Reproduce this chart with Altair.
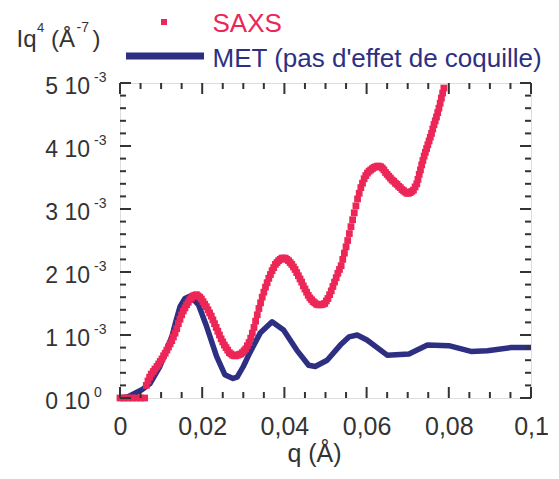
import altair as alt
import pandas as pd

# ---------------- data (Iq^4 values in units of 1e-3 A^-7) ----------------
saxs_q = [0.000, 0.001, 0.002, 0.003, 0.004, 0.005, 0.006,
          0.0064, 0.0068, 0.0072, 0.0076, 0.0081, 0.0085, 0.0090, 0.0094, 0.0098,
          0.0102, 0.0106, 0.0110, 0.0114, 0.0118, 0.0122, 0.0126, 0.0130, 0.0134,
          0.0138, 0.0142, 0.0146, 0.0150, 0.0154, 0.0158, 0.0162, 0.0166, 0.0170,
          0.0174, 0.0178, 0.0182, 0.0186, 0.0190, 0.0194, 0.0198, 0.0202, 0.0206,
          0.0210, 0.0214, 0.0218, 0.0222, 0.0226, 0.0230, 0.0234, 0.0238, 0.0242,
          0.0246, 0.0250, 0.0254, 0.0258, 0.0262, 0.0266, 0.0270, 0.0274, 0.0278,
          0.0282, 0.0286, 0.0290, 0.0294, 0.0298, 0.0302, 0.0306, 0.0310, 0.0314,
          0.0318, 0.0322, 0.0326, 0.0330, 0.0334, 0.0338, 0.0342, 0.0346, 0.0350,
          0.0354, 0.0358, 0.0362, 0.0366, 0.0370, 0.0374, 0.0378, 0.0382, 0.0386,
          0.0390, 0.0394, 0.0398, 0.0402, 0.0406, 0.0410, 0.0414, 0.0418, 0.0422,
          0.0426, 0.0430, 0.0434, 0.0438, 0.0442, 0.0446, 0.0450, 0.0454, 0.0458,
          0.0462, 0.0466, 0.0470, 0.0474, 0.0478, 0.0482, 0.0486, 0.0490, 0.0494,
          0.0498, 0.0502, 0.0506, 0.0510, 0.0514, 0.0518, 0.0522, 0.0526, 0.0530,
          0.0534, 0.0538, 0.0542, 0.0546, 0.0550, 0.0554, 0.0558, 0.0562, 0.0566,
          0.0570, 0.0574, 0.0578, 0.0582, 0.0586, 0.0590, 0.0594, 0.0598, 0.0602,
          0.0606, 0.0610, 0.0614, 0.0618, 0.0622, 0.0626, 0.0630, 0.0634, 0.0638,
          0.0642, 0.0646, 0.0650, 0.0654, 0.0658, 0.0662, 0.0666, 0.0670, 0.0674,
          0.0678, 0.0682, 0.0686, 0.0690, 0.0694, 0.0698, 0.0702, 0.0706, 0.0710,
          0.0714, 0.0718, 0.0722, 0.0725, 0.0728, 0.0731, 0.0734, 0.0737, 0.0740,
          0.0743, 0.0746, 0.0749, 0.0752, 0.0755, 0.0758, 0.0761, 0.0764, 0.0767,
          0.0770, 0.0773, 0.0776, 0.0779, 0.0782, 0.0785, 0.0788]
saxs_iq4 = [0, 0, 0, 0, 0, 0, 0,
            0.20, 0.27, 0.33, 0.38, 0.42, 0.46, 0.50, 0.54, 0.58,
            0.62, 0.67, 0.71, 0.76, 0.81, 0.86, 0.91, 0.97, 1.03,
            1.10, 1.18, 1.25, 1.32, 1.38, 1.43, 1.48, 1.52, 1.56,
            1.59, 1.62, 1.63, 1.64, 1.62, 1.60, 1.57, 1.53, 1.49,
            1.45, 1.40, 1.35, 1.30, 1.24, 1.18, 1.12, 1.06, 1.00,
            0.94, 0.89, 0.84, 0.80, 0.76, 0.72, 0.70, 0.68, 0.67,
            0.67, 0.68, 0.69, 0.70, 0.72, 0.75, 0.78, 0.83, 0.88,
            0.95, 1.03, 1.12, 1.22, 1.32, 1.42, 1.51, 1.60, 1.68,
            1.76, 1.83, 1.90, 1.96, 2.02, 2.07, 2.12, 2.15, 2.18,
            2.20, 2.22, 2.22, 2.22, 2.20, 2.18, 2.15, 2.12, 2.08,
            2.04, 1.99, 1.94, 1.89, 1.84, 1.78, 1.73, 1.68, 1.63,
            1.59, 1.56, 1.53, 1.51, 1.49, 1.48, 1.48, 1.48, 1.49,
            1.50, 1.54, 1.58, 1.64, 1.70, 1.77, 1.84, 1.91, 1.98,
            2.04, 2.10, 2.20, 2.30, 2.40, 2.50, 2.61, 2.72, 2.83,
            2.94, 3.05, 3.16, 3.25, 3.34, 3.41, 3.48, 3.53, 3.57,
            3.60, 3.62, 3.64, 3.66, 3.67, 3.68, 3.68, 3.67, 3.65,
            3.62, 3.58, 3.55, 3.52, 3.49, 3.46, 3.44, 3.41, 3.39,
            3.36, 3.34, 3.31, 3.29, 3.27, 3.25, 3.25, 3.26, 3.28,
            3.30, 3.35, 3.40, 3.47, 3.55, 3.62, 3.70, 3.77, 3.84,
            3.90, 3.96, 4.02, 4.08, 4.14, 4.20, 4.27, 4.34, 4.40,
            4.46, 4.53, 4.60, 4.68, 4.76, 4.84, 4.92]

met_q = [0.000, 0.002, 0.0053, 0.0073, 0.0097, 0.0126, 0.0136, 0.0146, 0.0158,
         0.0171, 0.0191, 0.0211, 0.0235, 0.0255, 0.0275, 0.0285, 0.0300, 0.0316,
         0.0341, 0.0370, 0.0398, 0.0430, 0.0459, 0.0475, 0.0504, 0.0536, 0.0557,
         0.0577, 0.0601, 0.0650, 0.0703, 0.0748, 0.0800, 0.0854, 0.0894, 0.0951,
         0.1000]
met_iq4 = [0.00, 0.02, 0.13, 0.23, 0.50, 0.97, 1.22, 1.45, 1.58,
           1.62, 1.48, 1.13, 0.66, 0.37, 0.31, 0.33, 0.50, 0.72,
           1.03, 1.21, 1.08, 0.76, 0.52, 0.50, 0.60, 0.84, 0.97,
           1.00, 0.92, 0.68, 0.70, 0.84, 0.83, 0.74, 0.75, 0.80,
           0.80]

x_major = [0, 0.02, 0.04, 0.06, 0.08, 0.1]
x_minor = [0.005, 0.01, 0.015, 0.025, 0.03, 0.035, 0.045, 0.05, 0.055,
           0.065, 0.07, 0.075, 0.085, 0.09, 0.095]
y_major = [0, 1, 2, 3, 4, 5]
y_minor = [0.2, 0.4, 0.6, 0.8, 1.2, 1.4, 1.6, 1.8, 2.2, 2.4, 2.6, 2.8,
           3.2, 3.4, 3.6, 3.8, 4.2, 4.4, 4.6, 4.8]
y_label_main = ["0 10", "1 10", "2 10", "3 10", "4 10", "5 10"]
y_label_exp = ["0", "-3", "-3", "-3", "-3", "-3"]

# ---------------- styling ----------------
W, H = 411, 315
RED = "#EC2757"
NAVY = "#2D2F82"
INK = "#333333"
FONT = "Liberation Sans"
MAJ, MIN = 11, 6

xs = alt.Scale(domain=[0, 0.1], nice=False, zero=False)
ys = alt.Scale(domain=[0, 5], nice=False, zero=False)

saxs = pd.DataFrame({"q": saxs_q, "v": saxs_iq4})
met = pd.DataFrame({"q": met_q, "v": met_iq4})
xmaj = pd.DataFrame({"q": x_major})
xmin = pd.DataFrame({"q": x_minor})
ymaj = pd.DataFrame({"t": y_major, "main": y_label_main, "exp": y_label_exp})
ymin = pd.DataFrame({"t": y_minor})
one = pd.DataFrame({"a": [0]})

x_axis = alt.Axis(values=x_major, labelExpr="replace(format(datum.value, '~g'), '.', ',')",
                  ticks=False, domain=False, grid=False, labelFlush=False, labelOverlap=False,
                  labelFont=FONT, labelFontSize=25, labelColor=INK, labelPadding=16,
                  title="q (Å)", titleFont=FONT, titleFontSize=25, titleColor=INK,
                  titleFontWeight="normal", titleX=194, titleY=63,
                  titleAlign="center", titleBaseline="alphabetic")


def xenc():
    return alt.X("q:Q", scale=xs, axis=x_axis)


met_line = alt.Chart(met).mark_line(color=NAVY, strokeWidth=5.5, strokeJoin="round").encode(
    x=xenc(),
    y=alt.Y("v:Q", scale=ys, axis=None),
)
saxs_pts = alt.Chart(saxs).mark_square(color=RED, size=46, opacity=1).encode(
    x=xenc(),
    y=alt.Y("v:Q", scale=ys, axis=None),
)


def xticks(df, length):
    b = alt.Chart(df).mark_rule(color=INK, strokeWidth=2)
    return [b.encode(x=xenc(), y=alt.value(H), y2=alt.value(H - length)),
            b.encode(x=xenc(), y=alt.value(0), y2=alt.value(length))]


def yticks(df, length):
    b = alt.Chart(df).mark_rule(color=INK, strokeWidth=2)
    ye = alt.Y("t:Q", scale=ys, axis=None)
    return [b.encode(y=ye, x=alt.value(0), x2=alt.value(length)),
            b.encode(y=ye, x=alt.value(W), x2=alt.value(W - length))]


ylab_main = alt.Chart(ymaj).mark_text(align="right", baseline="alphabetic", dy=11,
                                      font=FONT, fontSize=23, color=INK).encode(
    x=alt.value(-30), y=alt.Y("t:Q", scale=ys, axis=None), text="main:N")
ylab_exp = alt.Chart(ymaj).mark_text(align="left", baseline="alphabetic", dy=-1,
                                     font=FONT, fontSize=14, color=INK).encode(
    x=alt.value(-26), y=alt.Y("t:Q", scale=ys, axis=None), text="exp:N")


def label(txt, x, y, size, color):
    return alt.Chart(one).mark_text(align="left", baseline="alphabetic", font=FONT,
                                    fontSize=size, color=color).encode(
        x=alt.value(x), y=alt.value(y), text=alt.value(txt))


ytitle = [label("Iq", -103.5, -36, 24, INK), label("4", -83, -51, 13, INK),
          label("(Å", -69, -36, 24, INK), label("-7", -43.5, -51, 14, INK),
          label(")", -27.5, -36, 24, INK)]

legend = [
    alt.Chart(one).mark_square(color=RED, size=36, opacity=1).encode(
        x=alt.value(44), y=alt.value(-61)),
    label("SAXS", 92.5, -51, 26, RED),
    alt.Chart(one).mark_rule(color=NAVY, strokeWidth=7).encode(
        x=alt.value(6), x2=alt.value(84), y=alt.value(-27)),
    label("MET (pas d'effet de coquille)", 92.5, -16.5, 26, NAVY),
]

layers = ([met_line, saxs_pts] + xticks(xmaj, MAJ) + xticks(xmin, MIN)
          + yticks(ymaj, MAJ) + yticks(ymin, MIN) + [ylab_main, ylab_exp] + ytitle + legend)

chart = alt.layer(*layers).properties(
    width=W, height=H,
    autosize=alt.AutoSizeParams(type="none"),
    padding={"left": 112, "top": 75, "right": 20, "bottom": 73},
).configure_view(stroke=INK, strokeWidth=3).configure(background="white")

chart.save("out.html", embed_options={"renderer": "svg", "actions": False})
